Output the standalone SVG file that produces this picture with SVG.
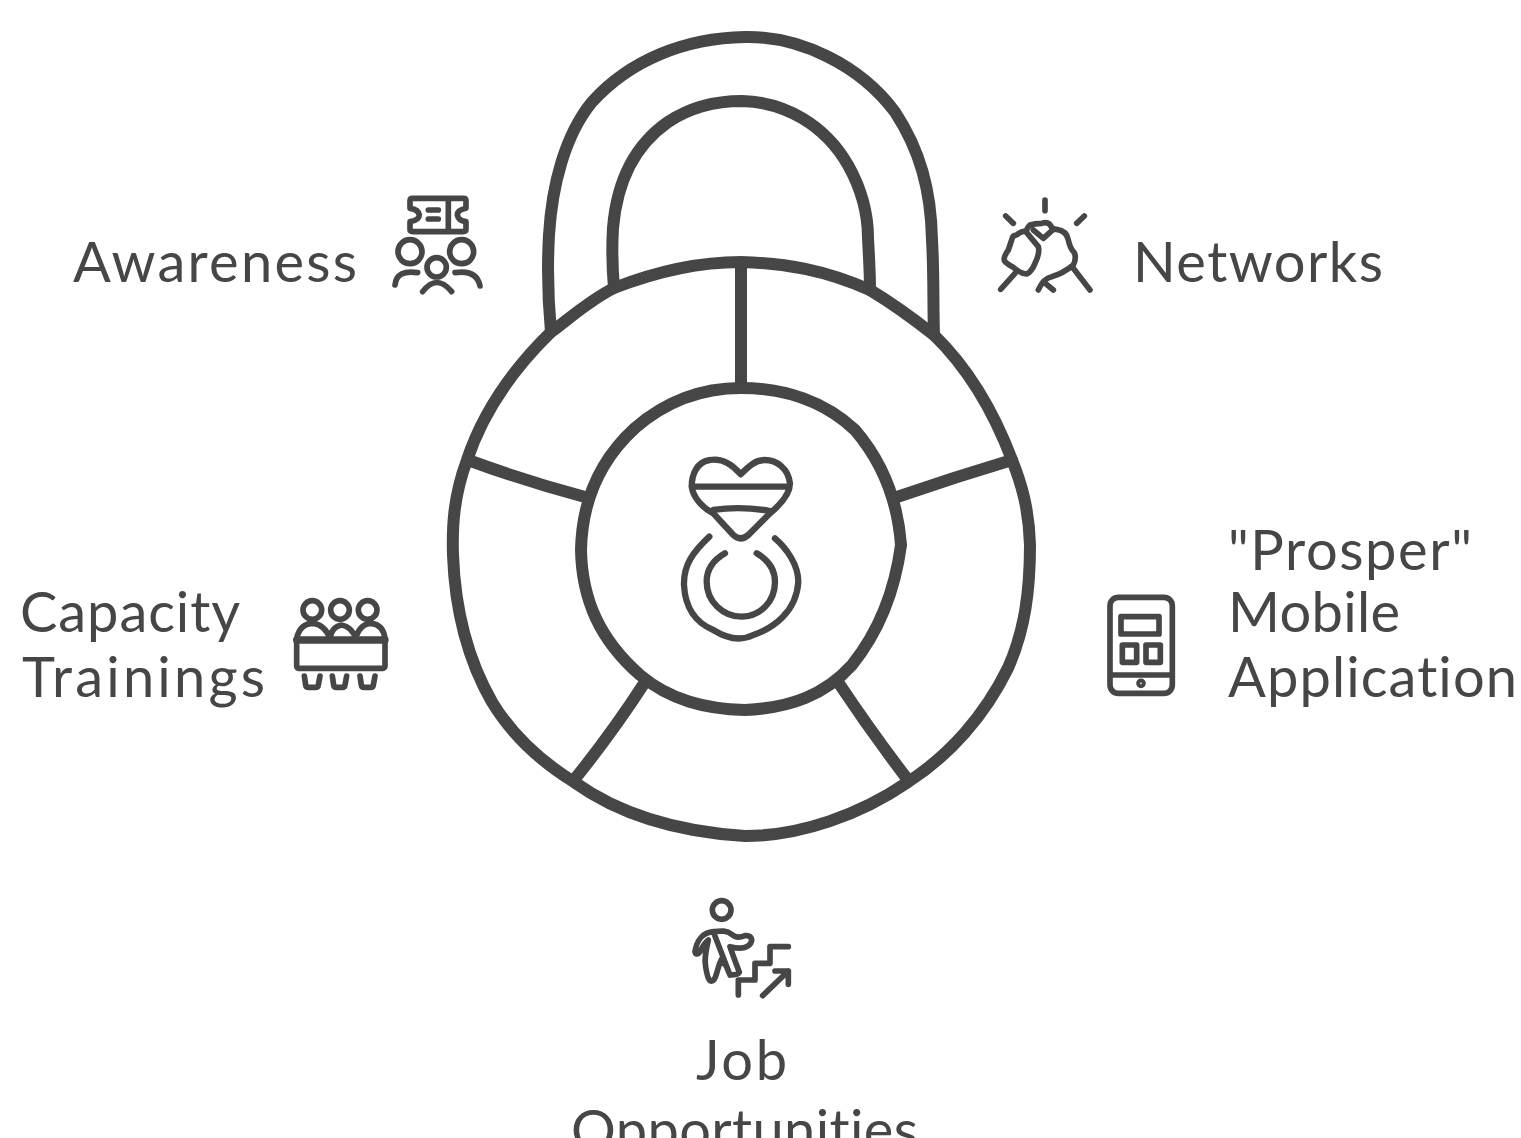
<svg xmlns="http://www.w3.org/2000/svg" width="1521" height="1138" viewBox="0 0 1521 1138">
<style>
text{font-family:"Lato","Liberation Sans",sans-serif;font-size:56px;fill:#464646;font-weight:400;font-variant-ligatures:none}
path,circle,rect,line{fill:none;stroke:#464646;stroke-linecap:round;stroke-linejoin:round}
.lock path{stroke-width:12}
.ic path,.ic circle,.ic rect,.ic line{stroke-width:17}
</style>
<rect width="1521" height="1138" style="fill:#fff;stroke:none"/>
<g id="connectors" class="lock">
<path d="M741 264V386M468 460Q525 481 585 497M1012 460Q955 477 897 497M574 780Q612 733 645 682M908 780Q872 733 838 682"/>
</g>
<g id="lock" class="lock">
<path d="M551 332C548 300 547 270 549 235C552 185 565 135 592 102C630 60 685 38 745 37C800 36 860 65 895 112C920 150 931 190 932 240C934 275 933 305 934 335"/>
<path d="M614 288C612 265 612 245 613 228C617 180 635 145 668 122C692 106 718 101 742 101C785 102 825 125 848 165C862 190 868 212 868 238C869 258 870 272 870 290"/>
<path d="M551 332C510 372 482 415 467 460C454 495 452 525 453 555C455 610 468 660 492 702C515 740 545 764 574 782C620 815 680 832 745 836C800 836 860 815 908 782C950 755 985 715 1008 668C1025 630 1030 590 1030 545C1029 510 1022 485 1012 460C995 415 970 370 934 335C915 320 895 305 870 290C825 270 785 263 741 262C695 262 655 272 614 288C590 300 570 318 551 332Z"/>
<path d="M741 388C700 388 665 402 635 428C600 460 582 500 581 550C582 600 600 640 640 675C670 700 705 709 745 710C790 708 825 695 852 665C880 630 895 590 901 545C898 505 885 465 855 430C825 402 785 388 741 388Z"/>
</g>
<g id="center-icon" class="ic" transform="translate(670 445) scale(.3333)">
<path style="stroke-width:19" d="M212 88C180 50 150 40 120 45C80 50 65 90 65 125C70 160 100 190 130 205L190 270Q212 290 235 270L300 205C330 180 360 150 360 115C355 70 320 45 285 45C255 45 235 65 212 88Z"/>
<path style="stroke-width:19" d="M70 125H355M130 195Q210 182 300 198"/>
<path style="stroke-width:19" d="M118 275C70 320 40 360 42 420C45 480 70 530 130 555C170 580 210 590 250 570C310 550 380 500 385 410C385 360 350 310 315 280"/>
<path style="stroke-width:19" d="M165 325C130 345 110 370 110 410C110 470 160 515 215 515C270 515 315 470 315 410C315 375 295 345 260 325"/>
</g>
<g id="awareness">
<text x="73" y="282" textLength="284">Awareness</text>
<g class="ic" transform="translate(380 180) scale(.3333)">
<path d="M98 55H250Q258 55 258 62V85Q232 90 232 105Q235 122 258 125V148Q258 155 250 155H98Q90 155 90 148V125Q118 120 118 105Q115 88 90 85V62Q90 55 98 55Z"/>
<path d="M205 62V150M145 90H175M145 117H175"/>
<circle cx="90" cy="215" r="36"/><circle cx="245" cy="215" r="36"/><circle cx="170" cy="262" r="29"/>
<path d="M45 315Q50 268 113 278M225 278Q290 268 300 318M128 335Q170 280 215 335"/>
</g>
</g>
<g id="networks">
<text x="1133" y="282" textLength="250">Networks</text>
<g class="ic" transform="translate(985 190) scale(.3333)">
<path d="M180 30V62M62 78L85 100M298 78L275 100M47 298L90 250M315 300L265 235M160 300Q175 265 200 260Q235 250 265 225Q275 205 268 188Q255 175 250 150Q245 122 215 118Q205 118 200 112Q192 92 170 100Q150 100 135 105Q125 115 125 122Q105 125 95 135Q82 135 80 150Q75 165 70 180Q55 200 58 212Q65 222 85 232Q105 250 125 252Q140 245 150 220Q165 190 160 170L125 128M145 120L175 145L205 118M175 275L205 300"/>
</g>
</g>
<g id="prosper">
<text x="1228" y="570" textLength="244">"Prosper"</text>
<text x="1228" y="632" textLength="172">Mobile</text>
<text x="1228" y="697" textLength="289">Application</text>
<g class="ic" transform="translate(1095 590) scale(.3333)">
<rect x="45" y="22" width="187" height="288" rx="25"/>
<path d="M50 255H230"/>
<rect x="78" y="80" width="114" height="52"/>
<rect x="82" y="165" width="43" height="52"/>
<rect x="153" y="165" width="43" height="52"/>
<circle cx="138" cy="280" r="6"/>
</g>
</g>
<g id="capacity">
<text x="20" y="632" textLength="220">Capacity</text>
<text x="22" y="697" textLength="243">Trainings</text>
<g class="ic" transform="translate(285 590) scale(.3333)">
<rect x="35" y="150" width="265" height="85" rx="6"/>
<path d="M35 150H300" style="stroke-width:22"/>
<circle cx="82" cy="60" r="28"/><circle cx="165" cy="60" r="28"/><circle cx="248" cy="60" r="28"/>
<path d="M35 145Q45 100 85 100Q120 105 135 145M135 145Q140 110 170 105Q200 110 212 145M212 145Q225 100 260 100Q295 105 300 145"/>
<path d="M58 258L62 285Q63 292 70 292H92Q99 292 100 285L105 258M142 258L146 285Q147 292 154 292H172Q179 292 180 285L185 258M225 258L229 285Q230 292 237 292H257Q264 292 265 285L270 258"/>
</g>
</g>
<g id="job">
<text x="696" y="1080" textLength="91">Job</text>
<text x="571" y="1150" textLength="347">Opportunities</text>
<g class="ic" transform="translate(680 895) scale(.3333)">
<circle cx="125" cy="45" r="28"/>
<path d="M100 110C70 112 50 135 45 170C47 180 55 178 60 170C68 155 72 145 85 135C78 165 72 190 77 215C80 235 82 250 90 257C100 262 106 250 110 235C114 220 118 205 125 192C135 205 145 225 150 240M150 240C160 240 175 240 178 232C170 210 160 185 150 155C170 160 200 165 212 145C220 130 210 120 195 122C180 128 165 128 155 118C140 105 120 108 100 110Z"/>
<path d="M175 300V255H225V205H270V155H325M248 302L325 228M285 228H325V268"/>
</g>
</g>
</svg>
